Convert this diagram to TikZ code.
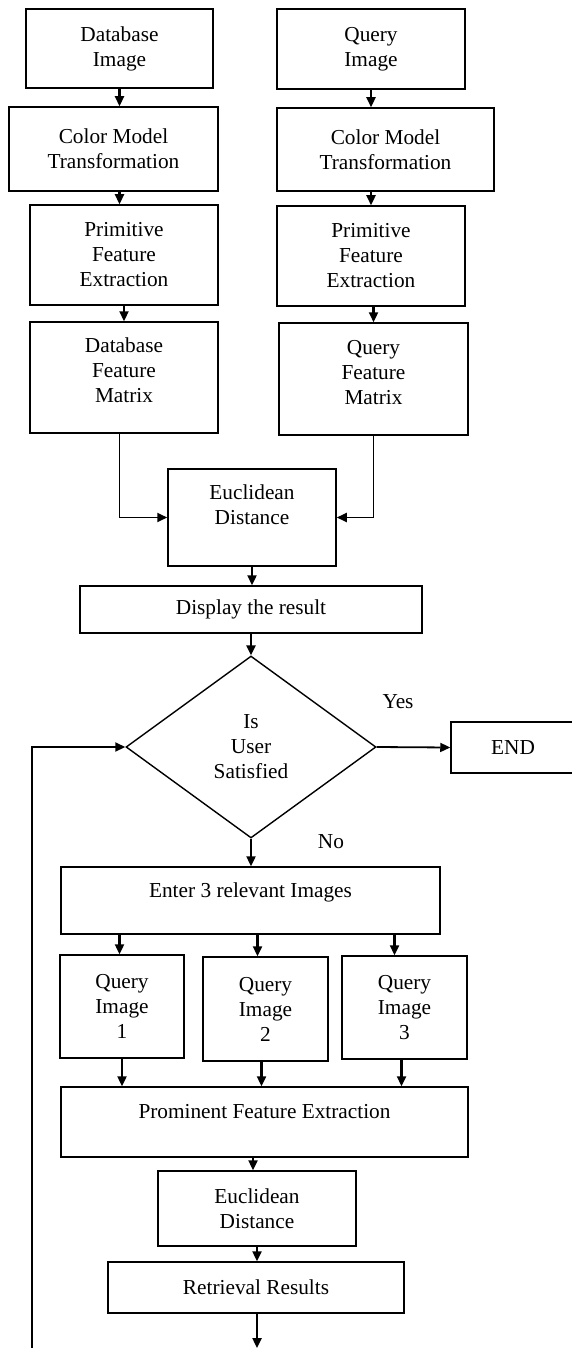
\documentclass[tikz,border=0pt]{standalone}
\usepackage{fontspec}
\setmainfont{Liberation Serif}
\usetikzlibrary{arrows.meta,shapes.geometric}

\begin{document}
\begin{tikzpicture}[x=1pt,y=-1pt,
    blk/.style={draw,line width=1.5pt,align=center,inner sep=0pt,font=\fontsize{21.3}{25}\selectfont},
    lbl/.style={font=\fontsize{21.3}{25}\selectfont},
    arr/.style={-{Triangle[length=10pt,width=9pt]},line width=2.3pt},
    elbow/.style={arr,line width=1.8pt}]
    \useasboundingbox (0,0) rectangle (571,1348);

    % Database branch
    \node[blk,minimum width=187pt,minimum height=79pt] (dbimg) at (119.5,48.5) {Database\\Image};
    \node[blk,minimum width=209pt,minimum height=84pt] (dbcol) at (113.5,149) {Color Model\\Transformation};
    \node[blk,minimum width=188pt,minimum height=100pt] (dbprim) at (124,255) {Primitive\\Feature\\Extraction};
    \node[blk,minimum width=188pt,minimum height=111pt] (dbmat) at (124,377.5) {Database\\Feature\\Matrix\\[-11pt]~};

    % Query branch
    \node[blk,minimum width=188pt,minimum height=80pt] (qimg) at (371,49) {Query\\Image};
    \node[blk,minimum width=217pt,minimum height=83pt] (qcol) at (385.5,149.5) {Color Model\\Transformation};
    \node[blk,minimum width=188pt,minimum height=100pt] (qprim) at (371,256) {Primitive\\Feature\\Extraction};
    \node[blk,minimum width=189pt,minimum height=112pt] (qmat) at (373.5,379) {Query\\Feature\\Matrix\\[-11pt]~};

    % Matching and decision
    \node[blk,minimum width=168pt,minimum height=97pt] (eucl) at (252,517.5) {Euclidean\\Distance\\~};
    \node[blk,minimum width=342pt,minimum height=47pt] (disp) at (251,609.5) {Display the result};
    \node[blk,diamond,aspect=1.37,minimum width=250pt,minimum height=182pt,line width=1.4pt] (dec) at (251,747) {Is\\User\\Satisfied};
    \node[blk,minimum width=124pt,minimum height=51pt] (endb) at (513,747.5) {END};
    \node[lbl] (yes) at (398,702) {Yes};
    \node[lbl] (no) at (331,842) {No};

    % Relevance feedback
    \node[blk,minimum width=379pt,minimum height=67pt] (enter) at (250.5,900.5) {Enter 3 relevant Images\\[-5pt]~};
    \node[blk,minimum width=124pt,minimum height=103pt] (qi1) at (122,1006.5) {Query\\Image\\1};
    \node[blk,minimum width=125pt,minimum height=104pt] (qi2) at (265.5,1009) {Query\\Image\\2};
    \node[blk,minimum width=125pt,minimum height=103pt] (qi3) at (404.5,1007.5) {Query\\Image\\3};
    \node[blk,minimum width=407pt,minimum height=70pt] (prom) at (264.5,1122) {Prominent Feature Extraction\\[-3pt]~};
    \node[blk,minimum width=198pt,minimum height=75pt] (eucl2) at (257,1208.5) {Euclidean\\Distance};
    \node[blk,minimum width=296pt,minimum height=51pt] (retr) at (256,1287.5) {Retrieval Results};

    \coordinate (bottom) at (0,1348);
    \coordinate (loop) at (32,1348);
    \coordinate (e2) at ([xshift=-8pt]qi2.north);
    \coordinate (e3) at ([xshift=-10pt]qi3.north);
    \coordinate (p2) at ([xshift=-4pt]qi2.south);
    \coordinate (p3) at ([xshift=-3pt]qi3.south);
    \coordinate (p4) at ([xshift=-4pt]eucl2.north);

    % Arrows
    \draw[arr] (dbimg.south) -- (dbimg.south |- dbcol.north);
    \draw[arr] (dbcol.south -| dbimg) -- (dbprim.north -| dbimg);
    \draw[arr] (dbprim.south) -- (dbmat.north);
    \draw[arr] (qimg.south) -- (qimg.south |- qcol.north);
    \draw[arr] (qcol.south -| qprim) -- (qprim.north);
    \draw[arr] (qprim.south -| qmat) -- (qmat.north);
    \draw[elbow] (dbmat.south -| dbimg) |- (eucl.west);
    \draw[elbow] (qmat.south) |- (eucl.east);
    \draw[arr] (eucl.south) -- (eucl.south |- disp.north);
    \draw[arr] (disp.south -| dec) -- (dec.north);
    \draw[elbow] (dec.east) -- (endb.west);
    \draw[arr] (dec.south) -- (dec.south |- enter.north);
    \draw[elbow] (loop) |- (dec.west);
    \draw[arr] (enter.south -| dbimg) -- (qi1.north -| dbimg);
    \draw[arr] (e2 |- enter.south) -- (e2);
    \draw[arr] (e3 |- enter.south) -- (e3);
    \draw[arr] (qi1.south) -- (qi1.south |- prom.north);
    \draw[arr] (p2) -- (p2 |- prom.north);
    \draw[arr] (p3) -- (p3 |- prom.north);
    \draw[arr] (p4 |- prom.south) -- (p4);
    \draw[arr] (eucl2.south) -- (eucl2.south |- retr.north);
    \draw[arr] (retr.south -| eucl2) -- (eucl2 |- bottom);
\end{tikzpicture}
\end{document}
